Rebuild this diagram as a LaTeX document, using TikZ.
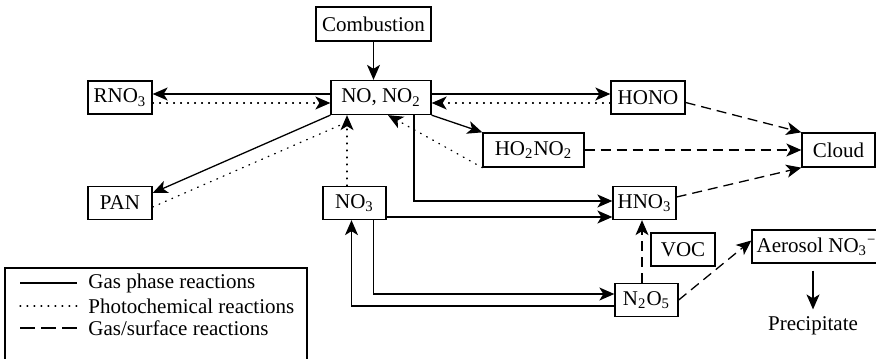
\documentclass[tikz,border=0pt]{standalone}
\usepackage{fontspec}
\setmainfont{Liberation Serif}
\usetikzlibrary{arrows.meta, calc}

\tikzset{
  lbl/.style={font=\fontsize{10.5}{12}\selectfont},
  species/.style={draw, lbl, line width=0.65pt, inner sep=0pt, minimum height=16.5pt},
  gas/.style={line width=0.65pt, -{Stealth[length=7.5pt,width=6.5pt,inset=2pt]}},
  photo/.style={gas, line cap=round, dash pattern=on 0.4pt off 3.1pt},
  surf/.style={gas, dash pattern=on 5pt off 3pt},
}

\begin{document}
\begin{tikzpicture}[x=0.5pt, y=-0.5pt]
  \useasboundingbox (0,0) rectangle (876,358);

  % Species
  \node[species, minimum width=57.5pt, minimum height=17pt] (comb) at (373.5,24) {Combustion};
  \node[species, minimum width=50pt, minimum height=17pt] (nox) at (381,97.5) {NO, NO\textsubscript{2}};
  \node[species, minimum width=32pt] (rno) at (120,97.5) {RNO\textsubscript{3}};
  \node[species, minimum width=37pt] (hono) at (648,97.5) {HONO};
  \node[species, minimum width=50.5pt, minimum height=17pt] (ho2) at (533.5,150) {HO\textsubscript{2}NO\textsubscript{2}};
  \node[species, minimum width=36.5pt, minimum height=17pt] (cloud) at (838.5,150) {Cloud};
  \node[species, minimum width=32pt] (pan) at (120,203) {PAN};
  \node[species, minimum width=31.5pt] (no3) at (354.5,203) {NO\textsubscript{3}};
  \node[species, minimum width=31.5pt] (hno3) at (644.5,203) {HNO\textsubscript{3}};
  \node[species, minimum width=32pt] (voc) at (683,249.5) {VOC};
  \node[species, minimum width=31.5pt] (n2o5) at (646.5,300) {N\textsubscript{2}O\textsubscript{5}};
  \node[species, minimum width=64.5pt] (aer) at (816.5,246.5) {Aerosol NO\textsubscript{3}\textsuperscript{−}};
  \node[lbl, inner sep=3.5pt] (precip) at (813,326) {Precipitate};

  % Gas phase reactions
  \draw[gas] (comb.south) -- (comb.south |- nox.north);
  \draw[gas] ([yshift=1.75pt]nox.west) -- ([yshift=1.75pt]rno.east);
  \draw[gas] ([yshift=1.75pt]nox.east) -- ([yshift=1.75pt]hono.west);
  \draw[gas] (nox.south west) -- ([yshift=5pt]pan.east);
  \draw[gas] (nox.south east) -- (ho2.north west);
  \draw[gas] ([xshift=16.5pt]nox.south) |- ([yshift=1pt]hno3.west);
  \draw[gas] ([yshift=-7pt]no3.east) -- ([yshift=-7pt]hno3.west);
  \draw[gas] ([xshift=9.5pt]no3.south) |- ([yshift=3pt]n2o5.west);
  \draw[gas] ([yshift=-3pt]n2o5.west) -| ([xshift=-1.5pt]no3.south);
  \draw[gas, shorten <=3.5pt] (aer.south -| precip.north) -- (precip.north);

  % Photochemical reactions
  \draw[photo] ([yshift=-2.75pt]rno.east) -- ([yshift=-2.75pt]nox.west);
  \draw[photo] ([yshift=-2.75pt]hono.west) -- ([yshift=-2.75pt]nox.east);
  \draw[photo] ([xshift=-3.75pt]no3.north) -- ([xshift=-17pt]nox.south);
  \draw[photo, -] ([yshift=-2pt]pan.east) -- ([xshift=-17pt,yshift=-3.5pt]nox.south);
  \draw[photo] (ho2.south west) -- ([xshift=3.5pt]nox.south);

  % Gas/surface reactions
  \draw[surf] ([yshift=-2.5pt]hono.east) -- (cloud.north west);
  \draw[surf] (ho2.east) -- (cloud.west);
  \draw[surf] ([yshift=3pt]hno3.east) -- (cloud.south west);
  \draw[surf] ([xshift=-2.25pt]n2o5.north) -- ([xshift=-1.25pt]hno3.south);
  \draw[surf] (n2o5.east) -- ([yshift=3pt]aer.west);

  % Legend
  \draw[line width=0.65pt] (5,268) rectangle (307,372);
  \draw[gas, -] (20,283) -- (77,283);
  \draw[photo, -] (20,306) -- (77,306);
  \draw[surf, -, dash pattern=on 7.5pt off 3pt] (20,328) -- (77,328);
  \node[lbl, anchor=west, inner sep=0pt] (key1) at (88,283) {Gas phase reactions};
  \node[lbl, anchor=west, inner sep=0pt] (key2) at (88,306) {Photochemical reactions};
  \node[lbl, anchor=west, inner sep=0pt] (key3) at (88,328) {Gas/surface reactions};
\end{tikzpicture}
\end{document}
